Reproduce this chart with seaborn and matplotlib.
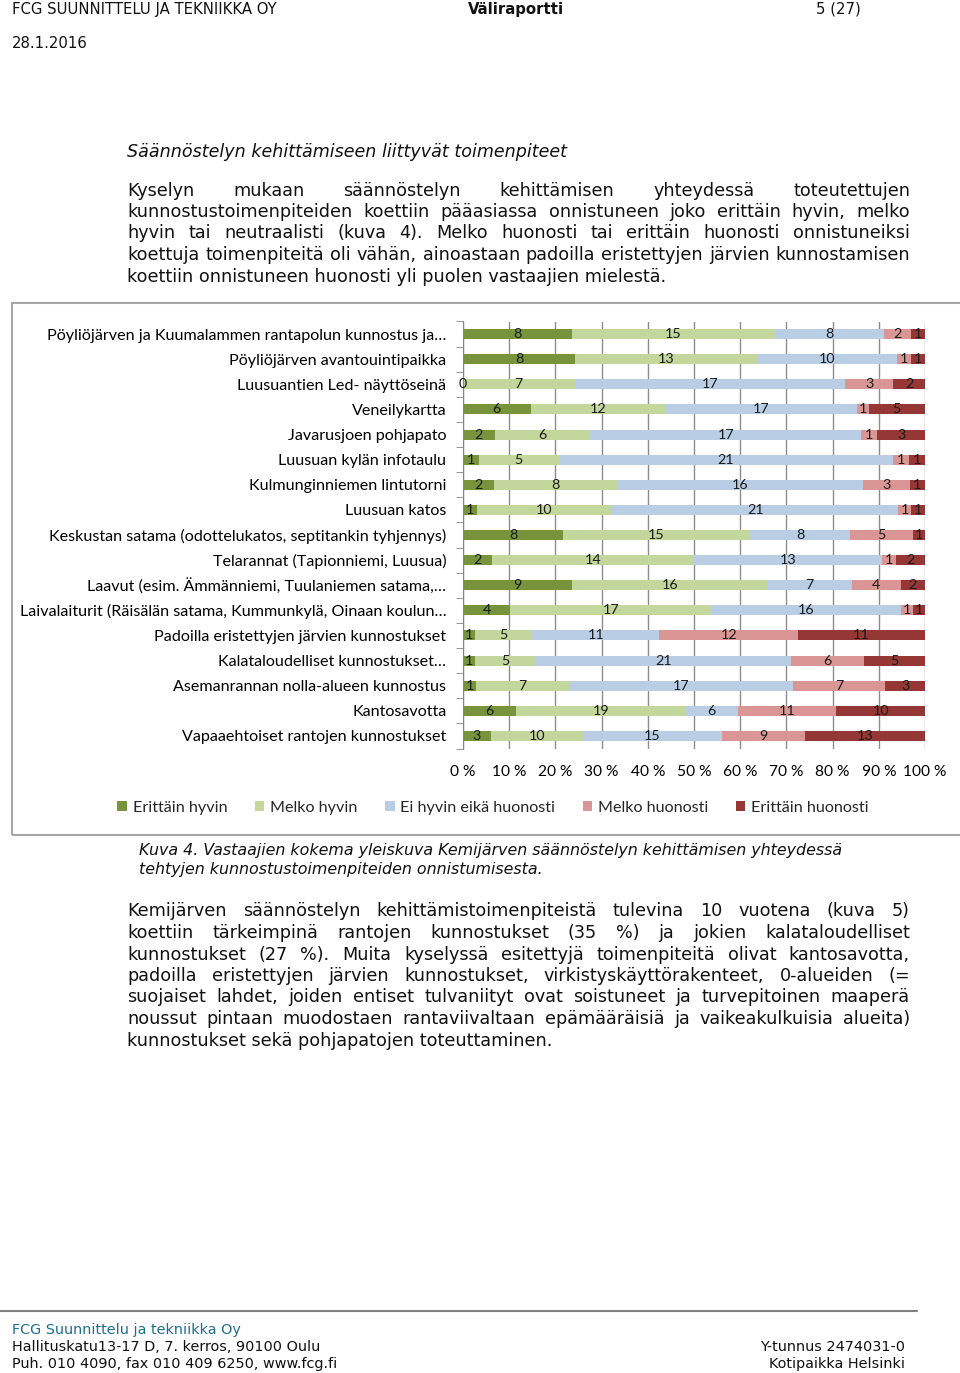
import numpy as np
import pandas as pd
import matplotlib
matplotlib.use('Agg')
import matplotlib.pyplot as plt
import seaborn as sns
from matplotlib.patches import Rectangle, Patch
from matplotlib.lines import Line2D

# data (number of answers per option)
categories = [
    "Pöyliöjärven ja Kuumalammen rantapolun kunnostus ja…",
    "Pöyliöjärven avantouintipaikka",
    "Luusuantien Led- näyttöseinä",
    "Veneilykartta",
    "Javarusjoen pohjapato",
    "Luusuan kylän infotaulu",
    "Kulmunginniemen lintutorni",
    "Luusuan katos",
    "Keskustan satama (odottelukatos, septitankin tyhjennys)",
    "Telarannat (Tapionniemi, Luusua)",
    "Laavut (esim. Ämmänniemi, Tuulaniemen satama,…",
    "Laivalaiturit (Räisälän satama, Kummunkylä, Oinaan koulun…",
    "Padoilla eristettyjen järvien kunnostukset",
    "Kalataloudelliset kunnostukset…",
    "Asemanrannan nolla-alueen kunnostus",
    "Kantosavotta",
    "Vapaaehtoiset rantojen kunnostukset",
]
erittain_hyvin = [8, 8, 0, 6, 2, 1, 2, 1, 8, 2, 9, 4, 1, 1, 1, 6, 3]
melko_hyvin = [15, 13, 7, 12, 6, 5, 8, 10, 15, 14, 16, 17, 5, 5, 7, 19, 10]
ei_hyvin_eika = [8, 10, 17, 17, 17, 21, 16, 21, 8, 13, 7, 16, 11, 21, 17, 6, 15]
melko_huonosti = [2, 1, 3, 1, 1, 1, 3, 1, 5, 1, 4, 1, 12, 6, 7, 11, 9]
erittain_huonosti = [1, 1, 2, 5, 3, 1, 1, 1, 1, 2, 2, 1, 11, 5, 3, 10, 13]

series_names = ["Erittäin hyvin", "Melko hyvin", "Ei hyvin eikä huonosti",
                "Melko huonosti", "Erittäin huonosti"]
colors = ["#77933C", "#C3D69B", "#B9CDE5", "#D99694", "#953735"]
xticks = [0, 10, 20, 30, 40, 50, 60, 70, 80, 90, 100]

counts = pd.DataFrame(dict(zip(series_names, [erittain_hyvin, melko_hyvin, ei_hyvin_eika,
                                              melko_huonosti, erittain_huonosti])),
                      index=categories)
pct = counts.div(counts.sum(axis=1), axis=0) * 100
cum = pct.cumsum(axis=1)

W, H = 960, 1373
fig = plt.figure(figsize=(W / 100, H / 100), dpi=100)

def fx(px):
    return px / W

def fy(py):
    return 1 - py / H

body_font = ['DejaVu Sans']
chart_font = ['Lato', 'DejaVu Sans']
narrow_font = ['Liberation Sans Narrow', 'DejaVu Sans']

#chart axes
ax = fig.add_axes([fx(463), fy(748.5), (925 - 463) / W, 427 / H])
sns.set_style('white')
plt.rcParams['font.family'] = chart_font

# stacked bars: draw cumulative totals from the last series to the first
for i in range(len(series_names) - 1, -1, -1):
    d = pd.DataFrame({'kategoria': categories, 'arvo': cum.iloc[:, i].values})
    sns.barplot(data=d, x='arvo', y='kategoria', orient='h', color=colors[i],
                saturation=1, width=0.4, errorbar=None, ax=ax, edgecolor='none')

# value labels in the middle of each segment
for r, cat in enumerate(categories):
    left = 0
    for name in series_names:
        v = counts.loc[cat, name]
        p = pct.loc[cat, name]
        ax.text(left + p / 2, r, str(v), ha='center', va='center', fontsize=10.3,
                color='#1a1a1a', family=chart_font)
        left += p

ax.set_xlim(0, 100)
ax.set_ylim(len(categories) - 0.5, -0.5)
ax.set_xticks(xticks)
ax.set_xticklabels([f"{t} %" for t in xticks], fontsize=11.2, family=chart_font)
ax.set_yticks(range(len(categories)))
ax.set_yticklabels(categories, fontsize=11.6, family=chart_font)
ax.set_yticks(np.arange(-0.5, len(categories), 1), minor=True)
ax.tick_params(axis='x', length=0, pad=12)
ax.tick_params(axis='y', which='major', length=0, pad=12)
ax.tick_params(axis='y', which='minor', length=5, color='#868686', direction='out')
ax.set_xlabel('')
ax.set_ylabel('')
ax.xaxis.grid(True, color='#8C8C8C', lw=1)
ax.yaxis.grid(False)
ax.set_axisbelow(True)
for s in ['top', 'right', 'bottom']:
    ax.spines[s].set_visible(False)
ax.spines['left'].set_color('#868686')

handles = [Patch(facecolor=c, edgecolor='none', label=n) for n, c in zip(series_names, colors)]
fig.legend(handles=handles, loc='center', bbox_to_anchor=(fx(493), fy(808)), ncol=5,
           frameon=False, handlelength=0.6, handleheight=0.6, handletextpad=0.35,
           columnspacing=1.7, prop={'family': chart_font, 'size': 11.6})

# chart frame and footer line
fig.add_artist(Rectangle((fx(12), fy(835)), (1000 - 12) / W, (835 - 303) / H,
                         transform=fig.transFigure, fill=False, edgecolor='#A6A6A6', lw=1.5))
fig.add_artist(Line2D([0, fx(917)], [fy(1311), fy(1311)], transform=fig.transFigure,
                      color='#808080', lw=1.5))

renderer = fig.canvas.get_renderer()

def justify(lines, x0, x1, y0, step, size, **kw):
    for i, line in enumerate(lines):
        y = fy(y0 + i * step)
        if i == len(lines) - 1:
            fig.text(fx(x0), y, line, fontsize=size, va='baseline', **kw)
            continue
        words = line.split(' ')
        texts = [fig.text(0, y, w, fontsize=size, va='baseline', **kw) for w in words]
        widths = [t.get_window_extent(renderer).width for t in texts]
        gap = (x1 - x0 - sum(widths)) / (len(words) - 1)
        x = x0
        for t, w in zip(texts, widths):
            t.set_x(fx(x))
            x += w + gap

txt = '#111111'
# header
fig.text(fx(12), fy(14), "FCG SUUNNITTELU JA TEKNIIKKA OY", fontsize=10.7, family=narrow_font, color=txt)
fig.text(fx(516), fy(14), "Väliraportti", fontsize=10.7, family=narrow_font, weight='bold',
         ha='center', color=txt)
fig.text(fx(816), fy(14), "5 (27)", fontsize=10.7, family=narrow_font, color=txt)
fig.text(fx(12), fy(48), "28.1.2016", fontsize=10.7, family=narrow_font, color=txt)

fig.text(fx(127), fy(157), "Säännöstelyn kehittämiseen liittyvät toimenpiteet", fontsize=12.6,
         style='italic', family=body_font, color=txt)

para1 = [
    "Kyselyn mukaan säännöstelyn kehittämisen yhteydessä toteutettujen",
    "kunnostustoimenpiteiden koettiin pääasiassa onnistuneen joko erittäin hyvin, melko",
    "hyvin tai neutraalisti (kuva 4). Melko huonosti tai erittäin huonosti onnistuneiksi",
    "koettuja toimenpiteitä oli vähän, ainoastaan padoilla eristettyjen järvien kunnostamisen",
    "koettiin onnistuneen huonosti yli puolen vastaajien mielestä.",
]
justify(para1, 127, 910, 195.5, 21.5, 12.7, family=body_font, color=txt)

fig.text(fx(139), fy(855), "Kuva 4. Vastaajien kokema yleiskuva Kemijärven säännöstelyn kehittämisen yhteydessä",
         fontsize=11.45, style='italic', family=body_font, color=txt)
fig.text(fx(139), fy(874), "tehtyjen kunnostustoimenpiteiden onnistumisesta.",
         fontsize=11.45, style='italic', family=body_font, color=txt)

para2 = [
    "Kemijärven säännöstelyn kehittämistoimenpiteistä tulevina 10 vuotena (kuva 5)",
    "koettiin tärkeimpinä rantojen kunnostukset (35 %) ja jokien kalataloudelliset",
    "kunnostukset (27 %). Muita kyselyssä esitettyjä toimenpiteitä olivat kantosavotta,",
    "padoilla eristettyjen järvien kunnostukset, virkistyskäyttörakenteet, 0-alueiden (=",
    "suojaiset lahdet, joiden entiset tulvaniityt ovat soistuneet ja turvepitoinen maaperä",
    "noussut pintaan muodostaen rantaviivaltaan epämääräisiä ja vaikeakulkuisia alueita)",
    "kunnostukset sekä pohjapatojen toteuttaminen.",
]
justify(para2, 127, 910, 916.5, 21.5, 12.7, family=body_font, color=txt)

# footer
fs = 10.35
fig.text(fx(12), fy(1334), "FCG Suunnittelu ja tekniikka Oy", fontsize=fs, family=narrow_font,
         color='#1F6E8C')
fig.text(fx(12), fy(1351), "Hallituskatu13-17 D, 7. kerros, 90100 Oulu", fontsize=fs,
         family=narrow_font, color=txt)
fig.text(fx(12), fy(1368), "Puh. 010 4090, fax 010 409 6250, www.fcg.fi", fontsize=fs,
         family=narrow_font, color=txt)
fig.text(fx(905), fy(1351), "Y-tunnus 2474031-0", fontsize=fs, family=narrow_font,
         ha='right', color=txt)
fig.text(fx(905), fy(1368), "Kotipaikka Helsinki", fontsize=fs, family=narrow_font,
         ha='right', color=txt)

fig.savefig('out.png', dpi=100, facecolor='white')
